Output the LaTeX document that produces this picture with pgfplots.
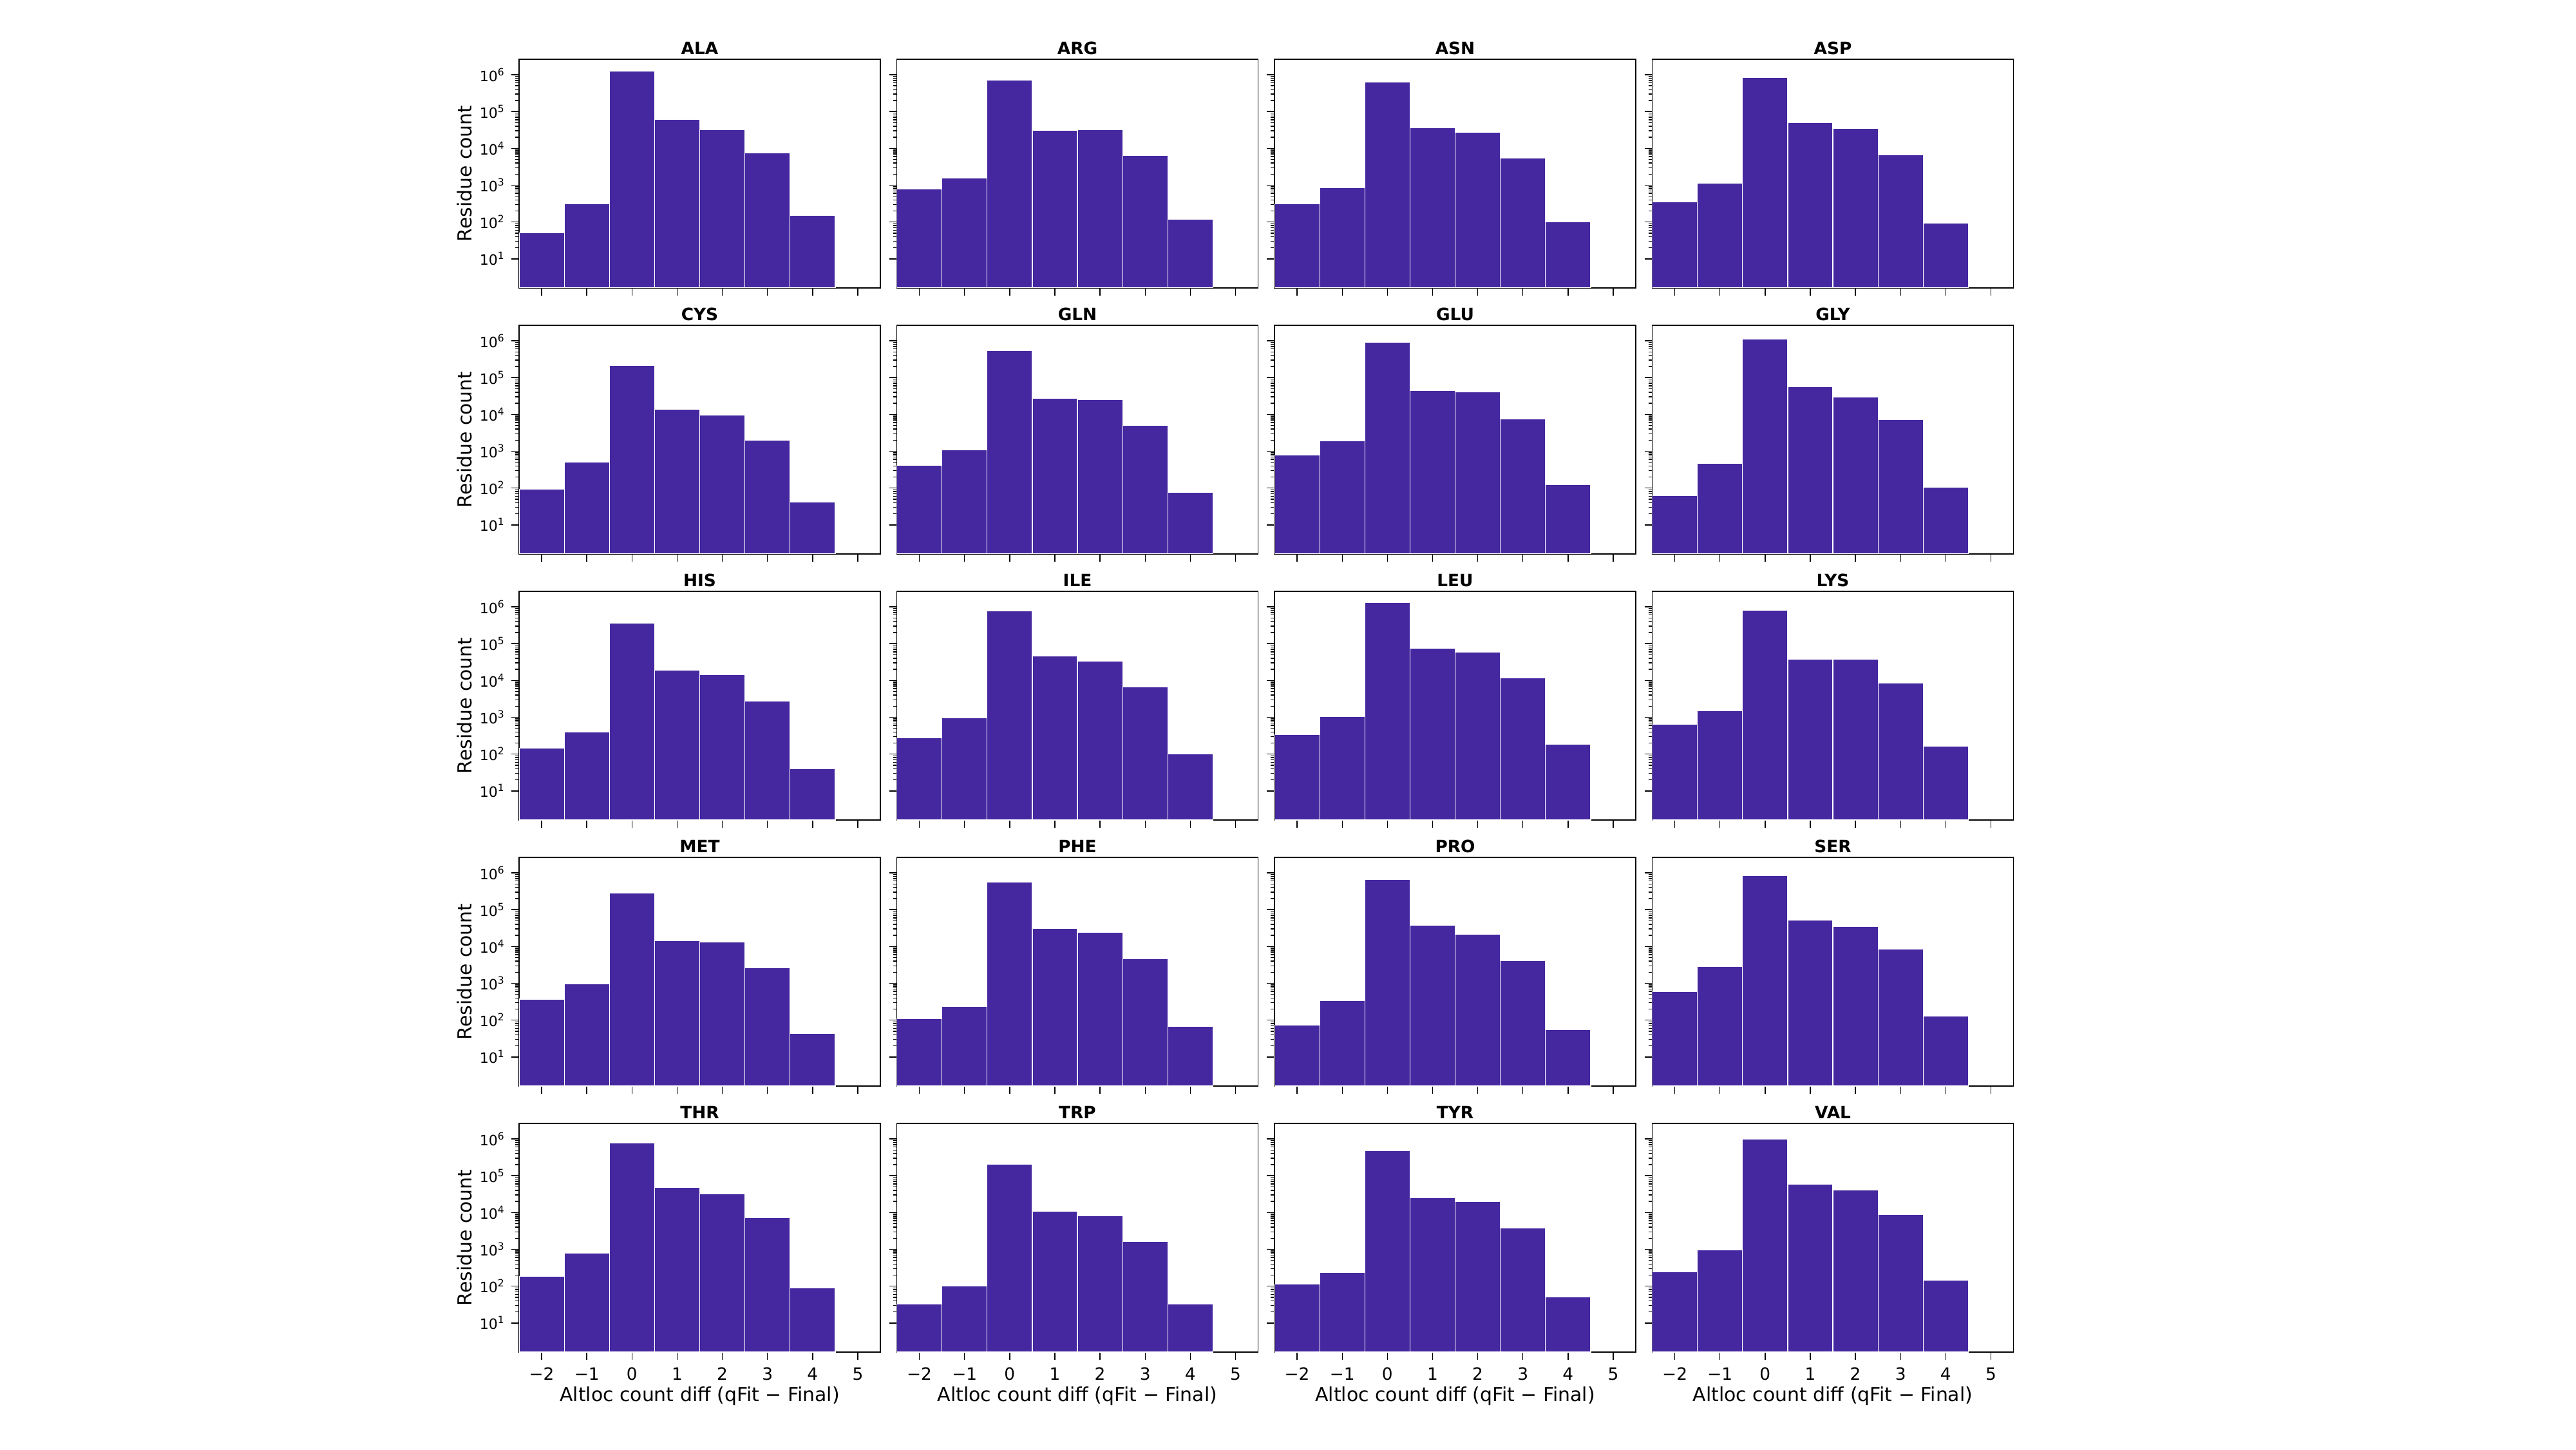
\documentclass[border=0pt]{standalone}
\usepackage{pgfplots}
\pgfplotsset{compat=1.18}
\usepackage{fontspec}
\setmainfont{DejaVu Sans}
\definecolor{barc}{RGB}{69,39,160}
\newcommand\tp[1]{10\textsuperscript{#1}}
\pgfplotsset{myhist/.style={
  scale only axis, width=56.1mm, height=35.5mm, anchor=north west,
  ymin=1.62, ymax=2.63e6, xmin=-2.5, xmax=5.5, log origin=infty,
  xtick={-2,-1,0,1,2,3,4,5}, ytick={10,100,1000,10000,100000,1000000},
  yticklabels={\tp{1},\tp{2},\tp{3},\tp{4},\tp{5},\tp{6}},
  tick align=outside, tick pos=left, axis line style={line width=0.5pt},
  major tick length=1.2mm, minor tick length=0.6mm,
  every tick/.style={black,line width=0.4pt},
  tick label style={font=\fontsize{7.5}{8}\selectfont},
  title style={font=\fontsize{7.5}{8}\selectfont\bfseries, yshift=-2.6mm},
  label style={font=\fontsize{8.5}{9}\selectfont},
  xticklabels={}, yticklabel style={font=\fontsize{6.3}{7}\selectfont, xshift=0.3mm},
},
yl/.style={ylabel={Residue count}, ylabel style={yshift=-1.2mm}},
ynone/.style={yticklabels={}},
xl/.style={xticklabels={−2,−1,0,1,2,3,4,5}, xlabel={Altloc count diff (qFit − Final)}, xlabel style={yshift=1.5mm}},
}
\newcommand\panel[5]{%
\begin{axis}[ymode=log, myhist, at={(80.6mm+58.65mm*#1,225mm-9.2mm-41.3mm*#2)}, title={#3}, #5]
\addplot[ybar, bar width=1, fill=barc, draw=white, line width=0.35pt] coordinates {#4};
\end{axis}}
\begin{document}
\begin{tikzpicture}
\useasboundingbox (0,0) rectangle (400mm,225mm);
\panel{0}{0}{ALA}{(-2,51)(-1,309)(0,1.24e6)(1,6.0e4)(2,3.2e4)(3,7400)(4,152)}{yl}
\panel{1}{0}{ARG}{(-2,784)(-1,1550)(0,7.25e5)(1,3.05e4)(2,3.27e4)(3,6450)(4,117)}{ynone}
\panel{2}{0}{ASN}{(-2,315)(-1,860)(0,6.25e5)(1,3.6e4)(2,2.7e4)(3,5500)(4,102)}{ynone}
\panel{3}{0}{ASP}{(-2,347)(-1,1140)(0,8.5e5)(1,4.96e4)(2,3.5e4)(3,6700)(4,93)}{ynone}
\panel{0}{1}{CYS}{(-2,92)(-1,505)(0,2.11e5)(1,1.38e4)(2,9640)(3,2000)(4,42)}{yl}
\panel{1}{1}{GLN}{(-2,411)(-1,1070)(0,5.47e5)(1,2.7e4)(2,2.5e4)(3,5130)(4,76)}{ynone}
\panel{2}{1}{GLU}{(-2,784)(-1,1920)(0,8.98e5)(1,4.44e4)(2,4.1e4)(3,7570)(4,123)}{ynone}
\panel{3}{1}{GLY}{(-2,62)(-1,458)(0,1.13e6)(1,5.74e4)(2,2.97e4)(3,7160)(4,107)}{ynone}
\panel{0}{2}{HIS}{(-2,145)(-1,395)(0,3.56e5)(1,1.88e4)(2,1.42e4)(3,2730)(4,40)}{yl}
\panel{1}{2}{ILE}{(-2,279)(-1,946)(0,7.85e5)(1,4.57e4)(2,3.3e4)(3,6600)(4,103)}{ynone}
\panel{2}{2}{LEU}{(-2,332)(-1,1040)(0,1.29e6)(1,7.6e4)(2,5.97e4)(3,1.16e4)(4,182)}{ynone}
\panel{3}{2}{LYS}{(-2,641)(-1,1490)(0,8.2e5)(1,3.73e4)(2,3.73e4)(3,8400)(4,165)}{ynone}
\panel{0}{3}{MET}{(-2,374)(-1,957)(0,2.87e5)(1,1.46e4)(2,1.33e4)(3,2650)(4,44)}{yl}
\panel{1}{3}{PHE}{(-2,108)(-1,234)(0,5.7e5)(1,3.14e4)(2,2.4e4)(3,4730)(4,68)}{ynone}
\panel{2}{3}{PRO}{(-2,73)(-1,345)(0,6.5e5)(1,3.73e4)(2,2.18e4)(3,4140)(4,56)}{ynone}
\panel{3}{3}{SER}{(-2,607)(-1,2920)(0,8.5e5)(1,5.2e4)(2,3.5e4)(3,8650)(4,128)}{ynone}
\panel{0}{4}{THR}{(-2,184)(-1,784)(0,7.85e5)(1,4.75e4)(2,3.27e4)(3,7360)(4,90)}{yl,xl}
\panel{1}{4}{TRP}{(-2,33)(-1,100)(0,2.08e5)(1,1.07e4)(2,8300)(3,1600)(4,33)}{ynone,xl}
\panel{2}{4}{TYR}{(-2,114)(-1,240)(0,4.84e5)(1,2.56e4)(2,1.99e4)(3,3770)(4,52)}{ynone,xl}
\panel{3}{4}{VAL}{(-2,244)(-1,946)(0,9.7e5)(1,5.8e4)(2,4.05e4)(3,8900)(4,148)}{ynone,xl}
\end{tikzpicture}
\end{document}
